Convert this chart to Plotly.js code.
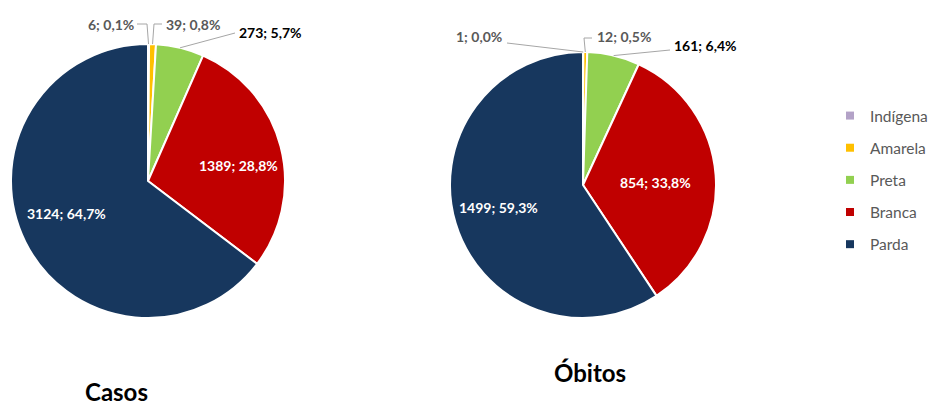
<!DOCTYPE html>
<html><head><meta charset="utf-8">
<script src="https://cdn.plot.ly/plotly-3.0.1.min.js"></script>
<style>html,body{margin:0;padding:0;background:#fff}#chart{width:933px;height:406px}</style>
</head><body><div id="chart"></div>
<script>
// ---- data ----
const categories = ['Indígena', 'Amarela', 'Preta', 'Branca', 'Parda'];
const casosValues = [6, 39, 273, 1389, 3124];
const obitosValues = [1, 12, 161, 854, 1499];
const colors = ['#B3A2C7', '#FFC000', '#92D050', '#C00000', '#17375E'];
const titles = ['Casos', 'Óbitos'];

// ---- layout config ----
const W = 933, H = 406;
const pies = [
  {values: casosValues, cx: 148, cy: 181, r: 137,
   outside: [
     {i: 0, path: [[147, 24], [137, 24]], tx: 136, ty: 24, xanchor: 'right', color: '#595959'},
     {i: 1, path: [[154, 24], [162, 24]], tx: 164, ty: 24, xanchor: 'left', color: '#595959'},
     {i: 2, path: [[235, 33]], tx: 237, ty: 32, xanchor: 'left', color: '#000000'}
   ],
   inside: [{i: 3, tx: 238, ty: 165}, {i: 4, tx: 66, ty: 213}],
   title: {x: 116, y: 391}},
  {values: obitosValues, cx: 583, cy: 185, r: 133,
   outside: [
     {i: 0, path: [[507, 43]], tx: 504, ty: 37, xanchor: 'right', color: '#595959'},
     {i: 1, path: [[584, 38], [592, 38]], tx: 595, ty: 37, xanchor: 'left', color: '#595959'},
     {i: 2, path: [[670, 50]], tx: 672, ty: 45, xanchor: 'left', color: '#000000'}
   ],
   inside: [{i: 3, tx: 655, ty: 182}, {i: 4, tx: 498, ty: 207}],
   title: {x: 590, y: 372}}
];

const px = x => x / W, py = y => 1 - y / H;
function fmt(v, total) {
  return v + '; ' + (v / total * 100).toFixed(1).replace('.', ',') + '%';
}

const traces = [], annotations = [], shapes = [];
const FONT = 'Lato, "Open Sans", sans-serif';

pies.forEach((p, k) => {
  const total = p.values.reduce((a, b) => a + b, 0);
  const texts = p.values.map(v => fmt(v, total));
  traces.push({
    type: 'pie', values: p.values, labels: categories, sort: false,
    direction: 'clockwise', rotation: 0,
    marker: {colors: colors, line: {color: '#ffffff', width: 2}},
    textinfo: 'none', hoverinfo: 'label+value+percent',
    domain: {x: [px(p.cx - p.r), px(p.cx + p.r)], y: [py(p.cy + p.r), py(p.cy - p.r)]},
    showlegend: false, automargin: false
  });
  let cum = 0;
  const mids = p.values.map(v => { const m = cum + v / 2; cum += v; return m / total * 2 * Math.PI; });
  p.outside.forEach(o => {
    const th = mids[o.i];
    const ex = p.cx + p.r * Math.sin(th), ey = p.cy - p.r * Math.cos(th);
    let d = 'M ' + px(ex) + ' ' + py(ey);
    o.path.forEach(pt => { d += ' L ' + px(pt[0]) + ' ' + py(pt[1]); });
    shapes.push({type: 'path', xref: 'paper', yref: 'paper', path: d,
      line: {color: '#A6A6A6', width: 1}});
    annotations.push({xref: 'paper', yref: 'paper', x: px(o.tx), y: py(o.ty),
      xanchor: o.xanchor, yanchor: 'middle', showarrow: false, text: texts[o.i],
      font: {family: FONT, size: 14, color: o.color, weight: 'bold'}});
  });
  p.inside.forEach(o => {
    annotations.push({xref: 'paper', yref: 'paper', x: px(o.tx), y: py(o.ty),
      xanchor: 'center', yanchor: 'middle', showarrow: false, text: texts[o.i],
      font: {family: FONT, size: 14, color: '#ffffff', weight: 'bold'}});
  });
  annotations.push({xref: 'paper', yref: 'paper', x: px(p.title.x), y: py(p.title.y),
    xanchor: 'center', yanchor: 'middle', showarrow: false, text: '<b>' + titles[k] + '</b>',
    font: {family: FONT, size: 24, color: '#000000'}});
});

// legend entries (one per category, separate groups for spacing)
categories.forEach((c, i) => {
  traces.push({type: 'scatter', mode: 'markers', x: [null], y: [null], name: c,
    legendgroup: 'g' + i, showlegend: true, hoverinfo: 'skip',
    marker: {symbol: 'square', size: 8, color: colors[i]}});
});

const layout = {
  width: W, height: H, margin: {l: 0, r: 0, t: 0, b: 0},
  paper_bgcolor: '#ffffff', plot_bgcolor: '#ffffff',
  showlegend: true,
  xaxis: {visible: false, range: [0, 1]}, yaxis: {visible: false, range: [0, 1]},
  legend: {x: 1, y: py(99), xanchor: 'right', yanchor: 'top',
    font: {family: FONT, size: 15.5, color: '#595959'},
    itemwidth: 30, traceorder: 'grouped', tracegroupgap: 9, bgcolor: 'rgba(0,0,0,0)'},
  annotations: annotations, shapes: shapes
};
Plotly.newPlot('chart', traces, layout, {staticPlot: true, displayModeBar: false});
</script></body></html>
